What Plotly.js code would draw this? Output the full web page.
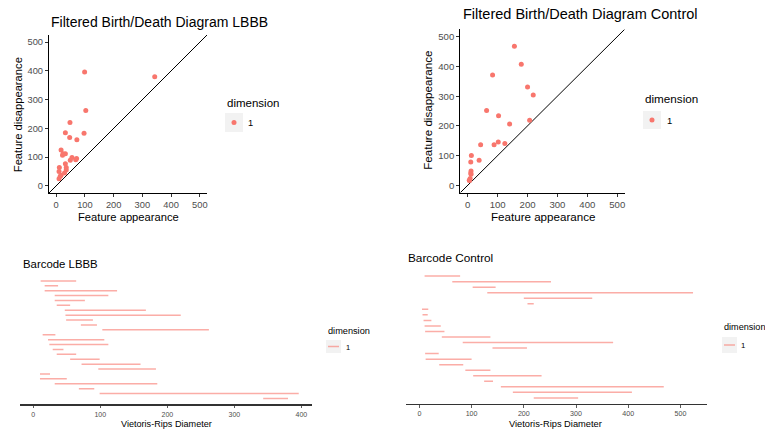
<!DOCTYPE html>
<html>
<head>
<meta charset="utf-8">
<script src="https://cdn.plot.ly/plotly-3.0.1.min.js"></script>
<style>html,body{margin:0;padding:0;background:#fff;}#chart{width:765px;height:431px;}</style>
</head>
<body>
<div id="chart"></div>
<script>
// ---- Data (birth = feature appearance, death = feature disappearance), barcode order top to bottom ----
var lbbbBirth = [11, 17, 17, 32, 32, 35, 47, 48, 49, 71, 103, 14, 22, 24, 29, 35, 55, 72, 97, 10, 10, 32, 68, 99, 343];
var lbbbDeath = [64, 37, 125, 112, 77, 55, 168, 220, 89, 95, 262, 33, 106, 112, 45, 64, 99, 160, 183, 25, 50, 185, 91, 396, 380];
var controlBirth = [10, 63, 102, 130, 200, 207, 5, 6, 8, 10, 11, 43, 83, 140, 11, 12, 38, 88, 103, 124, 156, 179, 219];
var controlDeath = [78, 252, 146, 524, 331, 219, 17, 16, 23, 41, 48, 136, 371, 206, 37, 100, 84, 136, 234, 141, 468, 407, 304];
var dimensionLabel = ["1"];
var diagTicks = [0, 100, 200, 300, 400, 500];
var diagLimit = [0, 500];

var W = 765, H = 431;
function px(x){ return x / W; }
function py(y){ return 1 - y / H; }
var FONT = "Liberation Sans, Arial, Helvetica, sans-serif";
var PT = "#F8766D";
var SEG = "rgba(248,118,109,0.6)";

function filt(b, d){
  var xb = [], yd = [];
  for (var i = 0; i < b.length; i++){
    if (b[i] >= diagLimit[0] && b[i] <= diagLimit[1] && d[i] >= diagLimit[0] && d[i] <= diagLimit[1]){ xb.push(b[i]); yd.push(d[i]); }
  }
  return {x: xb, y: yd};
}
function segs(b, d){
  var n = b.length, xs = [], ys = [];
  for (var i = 0; i < n; i++){ xs.push(b[i], d[i], null); ys.push(n - i, n - i, null); }
  return {x: xs, y: ys};
}
var L = filt(lbbbBirth, lbbbDeath), C = filt(controlBirth, controlDeath);
var LS = segs(lbbbBirth, lbbbDeath), CS = segs(controlBirth, controlDeath);
var dlo = diagLimit[0] - 0.05 * (diagLimit[1] - diagLimit[0]);
var dhi = diagLimit[1] + 0.05 * (diagLimit[1] - diagLimit[0]);

var traces = [
  {x: [dlo, dhi], y: [dlo, dhi], mode: "lines", line: {color: "#000", width: 1}, xaxis: "x", yaxis: "y", hoverinfo: "skip"},
  {x: L.x, y: L.y, mode: "markers", name: dimensionLabel[0], marker: {color: PT, size: 5}, xaxis: "x", yaxis: "y"},
  {x: [dlo, dhi], y: [dlo, dhi], mode: "lines", line: {color: "#000", width: 1}, xaxis: "x2", yaxis: "y2", hoverinfo: "skip"},
  {x: C.x, y: C.y, mode: "markers", name: dimensionLabel[0], marker: {color: PT, size: 5}, xaxis: "x2", yaxis: "y2"},
  {x: LS.x, y: LS.y, mode: "lines", name: dimensionLabel[0], line: {color: SEG, width: 1.5}, xaxis: "x3", yaxis: "y3", connectgaps: false},
  {x: CS.x, y: CS.y, mode: "lines", name: dimensionLabel[0], line: {color: SEG, width: 1.5}, xaxis: "x4", yaxis: "y4", connectgaps: false}
];

function diagAxis(dom, anchor, fs){
  return {domain: dom, anchor: anchor, range: [dlo, dhi], tickvals: diagTicks, ticktext: diagTicks.map(String),
    ticks: "outside", ticklen: 3, tickwidth: 1, tickcolor: "#333", tickfont: {family: FONT, size: fs, color: "#4D4D4D"},
    showline: true, linecolor: "#000", linewidth: 1.1, showgrid: false, zeroline: false, fixedrange: true};
}
function barX(dom, anchor, maxv, fs){
  return {domain: dom, anchor: anchor, range: [-0.05 * maxv, 1.05 * maxv], dtick: 100, tick0: 0,
    ticks: "outside", ticklen: 2.5, tickwidth: 0.8, tickcolor: "#333", tickfont: {family: FONT, size: fs, color: "#4D4D4D"},
    showline: true, linecolor: "#333", linewidth: 1.3, showgrid: false, zeroline: false, fixedrange: true};
}
function barY(dom, anchor, n){
  return {domain: dom, anchor: anchor, range: [1 - 0.05 * (n - 1), n + 0.05 * (n - 1)], visible: false, fixedrange: true};
}
var lMax = Math.max.apply(null, lbbbDeath), cMax = Math.max.apply(null, controlDeath);

function ann(text, x, y, size, opts){
  var a = {text: text, x: px(x), y: py(y), xref: "paper", yref: "paper", showarrow: false,
    font: {family: FONT, size: size, color: "#000"}, xanchor: "center", yanchor: "middle"};
  for (var k in (opts || {})) a[k] = opts[k];
  return a;
}
var annotations = [
  ann("Filtered Birth/Death Diagram LBBB", 49, 21.7, 14, {xanchor: "left"}),
  ann("Filtered Birth/Death Diagram Control", 461, 14, 14.5, {xanchor: "left"}),
  ann("Barcode LBBB", 20.7, 264, 11.4, {xanchor: "left"}),
  ann("Barcode Control", 406, 258.3, 11.8, {xanchor: "left"}),
  ann("Feature appearance", 128.7, 216.7, 11.2),
  ann("Feature disappearance", 17.7, 114.5, 11.2, {textangle: -90}),
  ann("Feature appearance", 543.3, 216.7, 11.6),
  ann("Feature disappearance", 427.3, 110.5, 11.6, {textangle: -90}),
  ann("Vietoris-Rips Diameter", 166, 423.8, 9.1),
  ann("Vietoris-Rips Diameter", 555.8, 423.8, 9.3),
  ann("dimension", 225, 103, 11.5, {xanchor: "left"}),
  ann(dimensionLabel[0], 250, 123, 9.3),
  ann("dimension", 643, 98, 11.7, {xanchor: "left"}),
  ann(dimensionLabel[0], 669.3, 120, 9.5),
  ann("dimension", 326, 331, 9.2, {xanchor: "left"}),
  ann(dimensionLabel[0], 347.7, 347, 7.5),
  ann("dimension", 721.5, 327, 9.1, {xanchor: "left"}),
  ann(dimensionLabel[0], 742.7, 345, 7.8)
];
function rect(x0, y0, x1, y1){
  return {type: "rect", xref: "paper", yref: "paper", x0: px(x0), x1: px(x1), y0: py(y1), y1: py(y0), fillcolor: "#F2F2F2", line: {width: 0}, layer: "below"};
}
function dot(cx, cy, r){
  return {type: "circle", xref: "paper", yref: "paper", x0: px(cx - r), x1: px(cx + r), y0: py(cy + r), y1: py(cy - r), fillcolor: PT, line: {width: 0}};
}
function hline(x0, x1, y){
  return {type: "line", xref: "paper", yref: "paper", x0: px(x0), x1: px(x1), y0: py(y), y1: py(y), line: {color: SEG, width: 1.5}};
}
var shapes = [
  rect(225, 113, 243, 132), dot(234, 122.5, 2.5),
  rect(643, 111, 661, 129), dot(652, 120, 2.5),
  rect(326, 340, 341, 353), hline(328, 339, 346.5),
  rect(722, 337, 737, 353), hline(724, 735, 345)
];

var layout = {
  width: W, height: H, margin: {l: 0, r: 0, t: 0, b: 0}, showlegend: false,
  paper_bgcolor: "#fff", plot_bgcolor: "rgba(0,0,0,0)", font: {family: FONT},
  xaxis: diagAxis([px(49), px(207)], "y", 9.3),
  yaxis: diagAxis([py(193), py(35)], "x", 9.3),
  xaxis2: diagAxis([px(460.3), px(624.7)], "y2", 9.6),
  yaxis2: diagAxis([py(192.7), py(29.3)], "x2", 9.6),
  xaxis3: barX([px(20), px(312)], "y3", lMax, 7),
  yaxis3: barY([py(404.3), py(275)], "x3", lbbbBirth.length),
  xaxis4: barX([px(405.7), px(706.7)], "y4", cMax, 7.1),
  yaxis4: barY([py(404), py(270)], "x4", controlBirth.length),
  annotations: annotations, shapes: shapes
};
Plotly.newPlot("chart", traces, layout, {staticPlot: true, displayModeBar: false});
</script>
</body>
</html>
